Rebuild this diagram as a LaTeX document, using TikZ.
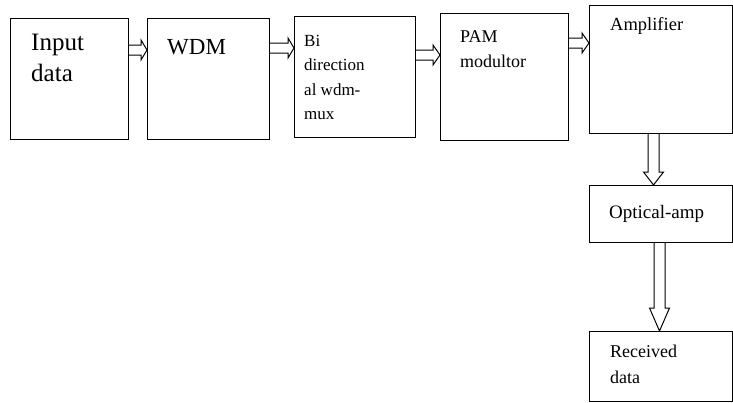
\documentclass[tikz,border=0pt]{standalone}
\usepackage{fontspec}
\setmainfont{Liberation Serif}
\usetikzlibrary{calc}

% hollow block arrows between two boxes
\newcommand{\rightblock}[4]{% from, to, y, head length
  \draw[blockarr] let \p1=(#1.east), \p2=(#2.west) in
    (\x1,#3-5) -- (\x2-#4,#3-5) -- (\x2-#4,#3-10) -- (\x2,#3)
    -- (\x2-#4,#3+10) -- (\x2-#4,#3+5) -- (\x1,#3+5);}
\newcommand{\downblock}[4]{% from, to, x, head length
  \draw[blockarr] let \p1=(#1.south), \p2=(#2.north) in
    (#3-5.5,\y1) -- (#3-5.5,\y2+#4) -- (#3-10,\y2+#4) -- (#3,\y2)
    -- (#3+10,\y2+#4) -- (#3+5.5,\y2+#4) -- (#3+5.5,\y1);}

\begin{document}
\begin{tikzpicture}[
x=1pt, y=-1pt,
box/.style={draw, line width=1pt, anchor=north west, inner sep=0pt},
txt/.style={anchor=north west, align=left, inner sep=0pt, font=\rmfamily},
blockarr/.style={line width=1pt, line join=miter}
]
\useasboundingbox (0,0) rectangle (733,402);
\node[box, minimum width=118pt, minimum height=121pt,
  label={[txt, font=\rmfamily\fontsize{25}{31}\selectfont, xshift=21pt, yshift=-16pt]north west:Input\\data}]
  (input) at (10,18) {};
\node[box, minimum width=122pt, minimum height=121pt,
  label={[txt, font=\rmfamily\fontsize{23}{30}\selectfont, xshift=20pt, yshift=-21pt]north west:WDM}]
  (wdm) at (147,18) {};
\node[box, minimum width=121pt, minimum height=121pt,
  label={[txt, font=\rmfamily\fontsize{17}{24.5}\selectfont, xshift=10pt, yshift=-19pt]north west:Bi\\direction\\al wdm-\\mux}]
  (bidir) at (294,16) {};
\node[box, minimum width=128pt, minimum height=127pt,
  label={[txt, font=\rmfamily\fontsize{18}{25}\selectfont, xshift=20pt, yshift=-17pt]north west:PAM\\modultor}]
  (pam) at (440,13) {};
\node[box, minimum width=143pt, minimum height=128pt,
  label={[txt, font=\rmfamily\fontsize{18.5}{25}\selectfont, xshift=21pt, yshift=-12pt]north west:Amplifier}]
  (amp) at (589,5) {};
\node[box, minimum width=143pt, minimum height=57pt,
  label={[txt, font=\rmfamily\fontsize{19}{25}\selectfont, xshift=20pt, yshift=-20pt]north west:Optical-amp}]
  (optamp) at (589,185) {};
\node[box, minimum width=143pt, minimum height=70pt,
  label={[txt, font=\rmfamily\fontsize{18}{26}\selectfont, xshift=21pt, yshift=-14pt]north west:Received\\data}]
  (recv) at (589,331) {};
\rightblock{input}{wdm}{50}{6}
\rightblock{wdm}{bidir}{48}{6}
\rightblock{bidir}{pam}{55}{7}
\rightblock{pam}{amp}{43}{7}
\downblock{amp}{optamp}{653.5}{13}
\downblock{optamp}{recv}{659.5}{23}
\end{tikzpicture}
\end{document}
